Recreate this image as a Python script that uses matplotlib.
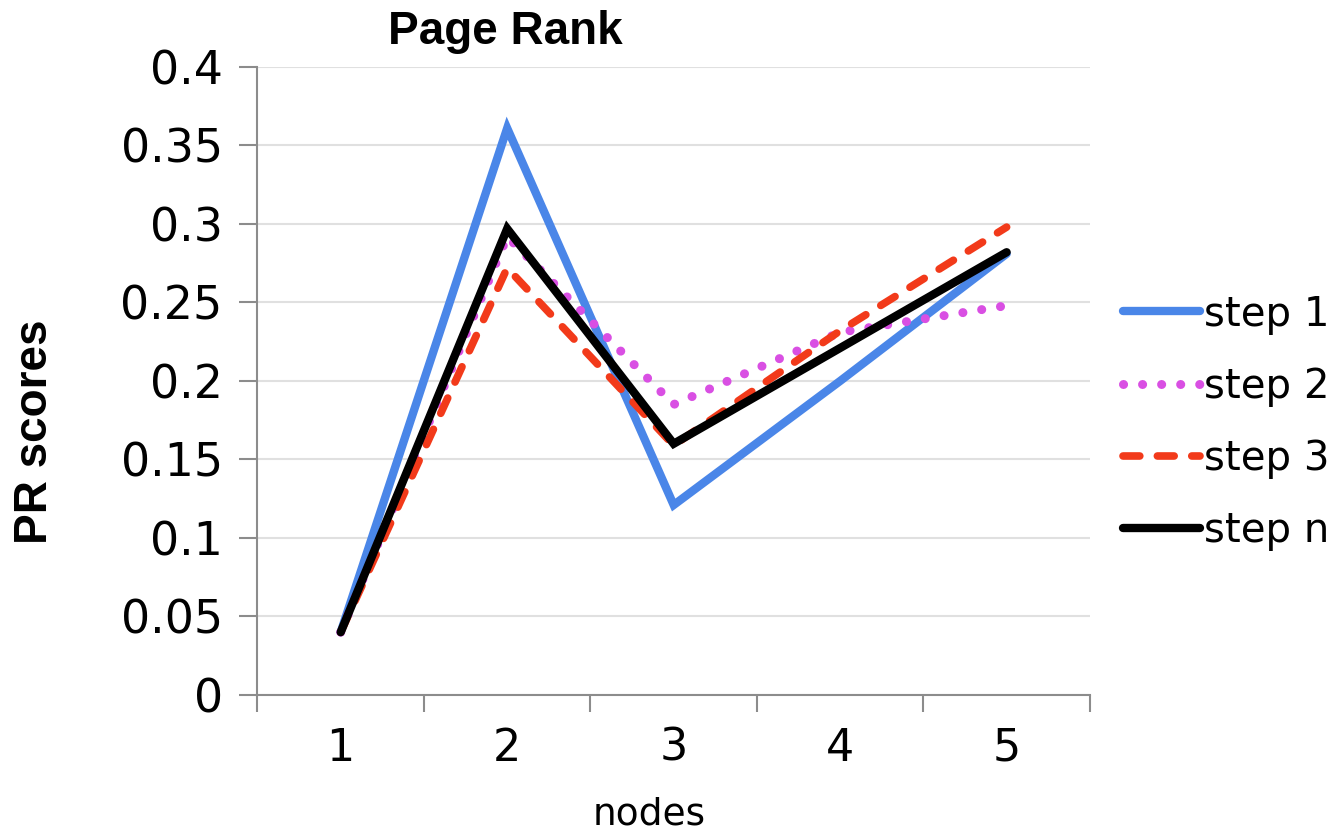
import matplotlib.pyplot as plt
from matplotlib.ticker import FixedLocator

# data
nodes = [1, 2, 3, 4, 5]
step_1 = [0.04, 0.361, 0.121, 0.200, 0.281]
step_2 = [0.04, 0.292, 0.185, 0.231, 0.248]
step_3 = [0.04, 0.272, 0.159, 0.232, 0.298]
step_n = [0.04, 0.297, 0.160, 0.221, 0.282]
series_labels = ["step 1", "step 2", "step 3", "step n"]
y_ticks = [0, 0.05, 0.1, 0.15, 0.2, 0.25, 0.3, 0.35, 0.4]
y_ticklabels = ["0", "0.05", "0.1", "0.15", "0.2", "0.25", "0.3", "0.35", "0.4"]

fig = plt.figure(figsize=(13.34, 8.34), dpi=100)
ax = fig.add_axes([0.193, 0.1667, 0.624, 0.753])

ax.plot(nodes, step_1, color="#4A86E8", lw=6, solid_capstyle="round",
        solid_joinstyle="miter", label=series_labels[0])
ax.plot(nodes, step_2, color="#D94FE3", lw=6.5, linestyle=(0, (0.01, 2.1)),
        dash_capstyle="round", label=series_labels[1])
ax.plot(nodes, step_3, color="#F23A1A", lw=5.5, linestyle=(0, (2.2, 2.3)),
        dash_capstyle="round", label=series_labels[2])
ax.plot(nodes, step_n, color="black", lw=6, solid_capstyle="round",
        solid_joinstyle="miter", label=series_labels[3])

# axes look (excel style)
ax.set_xlim(0.5, 5.5)
ax.set_ylim(0, 0.4)
ax.yaxis.set_major_locator(FixedLocator(y_ticks))
ax.set_yticklabels(y_ticklabels)
ax.xaxis.set_major_locator(FixedLocator(nodes))
ax.xaxis.set_minor_locator(FixedLocator([0.5, 1.5, 2.5, 3.5, 4.5, 5.5]))
ax.set_xticklabels([str(n) for n in nodes])
ax.grid(axis="y", color="#e0e0e0", lw=1.5)
ax.set_axisbelow(True)
for side in ["top", "right"]:
    ax.spines[side].set_visible(False)
for side in ["left", "bottom"]:
    ax.spines[side].set_color("#8c8c8c")
    ax.spines[side].set_linewidth(1.5)
ax.tick_params(axis="y", which="major", length=13, width=1.5, color="#8c8c8c",
               pad=12, labelsize=33)
ax.tick_params(axis="x", which="major", length=0, pad=23, labelsize=32)
ax.tick_params(axis="x", which="minor", length=12, width=1.5, color="#8c8c8c")

fig.text(0.379, 0.962, "Page Rank", family="Liberation Sans", weight="bold",
         fontsize=33, ha="center", va="center")
fig.text(0.026, 0.482, "PR scores", family="Liberation Sans", weight="bold",
         fontsize=33, rotation=90, ha="center", va="center")
fig.text(0.487, 0.023, "nodes", fontsize=27, ha="center", va="center")

ax.legend(loc="center left", bbox_to_anchor=(0.83, 0.493), bbox_transform=fig.transFigure,
          frameon=False, fontsize=29, handlelength=1.9, handletextpad=0.1,
          labelspacing=0.8, borderaxespad=0)

fig.savefig("out.png", dpi=100)
